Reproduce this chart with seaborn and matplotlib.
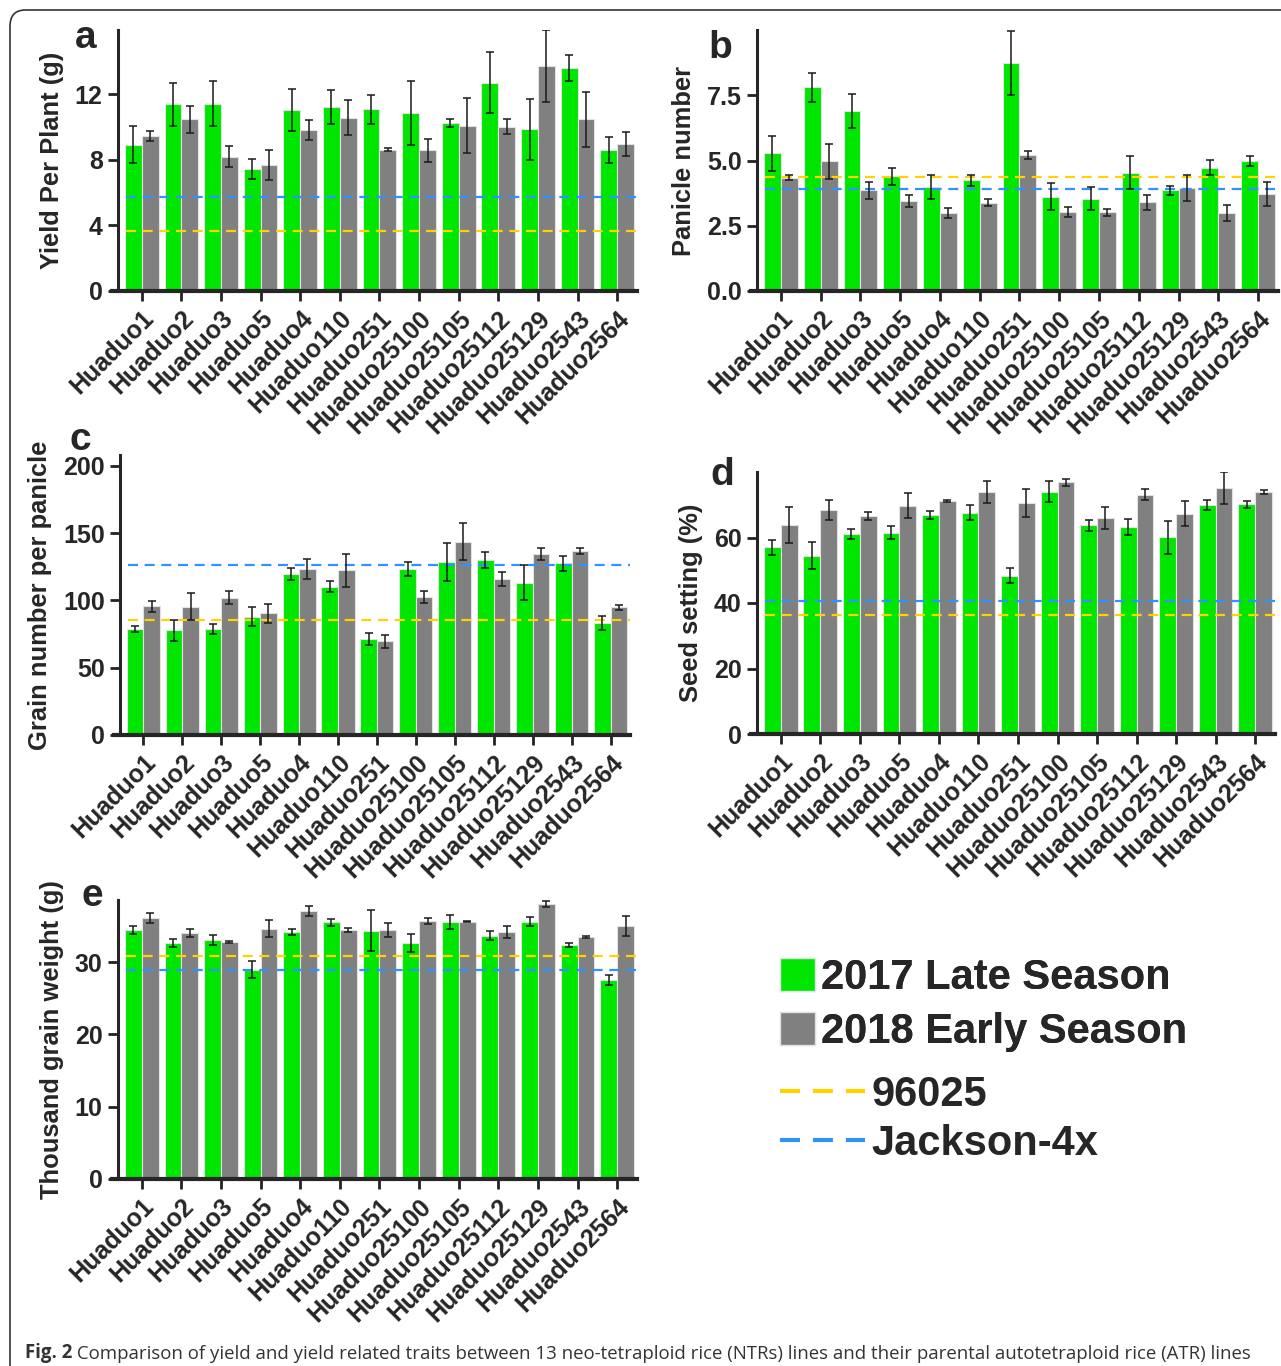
import matplotlib
matplotlib.use("Agg")
import pandas as pd
import matplotlib.pyplot as plt
import seaborn as sns
from matplotlib.patches import Patch, FancyBboxPatch
from matplotlib.lines import Line2D

W, H = 1281, 1366

lines = ["Huaduo1", "Huaduo2", "Huaduo3", "Huaduo5", "Huaduo4", "Huaduo110",
         "Huaduo251", "Huaduo25100", "Huaduo25105", "Huaduo25112",
         "Huaduo25129", "Huaduo2543", "Huaduo2564"]
seasons = ["2017 Late Season", "2018 Early Season"]

# a - yield per plant
yield_late = [8.92, 11.38, 11.42, 7.44, 11.01, 11.2, 11.07, 10.85, 10.24, 12.68, 9.86, 13.59, 8.6]
yield_late_err = [1.12, 1.3, 1.38, 0.6, 1.28, 1.03, 0.87, 1.95, 0.25, 1.85, 1.85, 0.8, 0.8]
yield_early = [9.43, 10.45, 8.19, 7.67, 9.82, 10.55, 8.62, 8.58, 10.08, 10.02, 13.69, 10.45, 8.95]
yield_early_err = [0.3, 0.8, 0.65, 0.9, 0.6, 1.07, 0.1, 0.7, 1.7, 0.45, 2.2, 1.68, 0.75]

# b - panicle number
pan_late = [5.27, 7.8, 6.89, 4.39, 4.0, 4.24, 8.73, 3.62, 3.54, 4.53, 3.86, 4.73, 4.97]
pan_late_err = [0.68, 0.56, 0.64, 0.32, 0.46, 0.22, 1.23, 0.52, 0.45, 0.64, 0.18, 0.3, 0.19]
pan_early = [4.34, 4.97, 3.86, 3.44, 2.99, 3.38, 5.21, 3.03, 3.01, 3.4, 3.94, 2.99, 3.71]
pan_early_err = [0.1, 0.67, 0.33, 0.22, 0.18, 0.14, 0.17, 0.2, 0.15, 0.29, 0.5, 0.3, 0.46]

# c - grain number per panicle
grain_late = [78.8, 77.8, 78.6, 88, 119.7, 110.2, 71.3, 123.2, 128.7, 129.9, 113.2, 127.4, 83]
grain_late_err = [2.5, 7.7, 3.5, 7, 4.2, 4, 4.7, 5, 14, 6.2, 13, 5.3, 5.3]
grain_early = [95.5, 95.3, 102, 90.3, 123.2, 122.2, 69.6, 102.2, 143.6, 116, 134.4, 136.7, 94.8]
grain_early_err = [4, 10.2, 4.7, 7, 7.2, 12, 4.7, 4.5, 13.8, 5.2, 4.5, 2.2, 2]

# d - seed setting
seed_late = [57.0, 54.4, 61.1, 61.5, 66.8, 67.5, 48.3, 74.0, 63.7, 63.3, 60.1, 69.8, 70.1]
seed_late_err = [2.2, 4.1, 1.6, 2.0, 1.2, 2.3, 2.3, 3.1, 1.7, 2.4, 5.0, 1.5, 1.0]
seed_early = [63.9, 68.4, 66.6, 69.7, 71.1, 73.8, 70.5, 76.8, 65.9, 73.1, 67.3, 75.0, 73.9]
seed_early_err = [5.5, 3.2, 1.3, 3.8, 0.3, 3.4, 4.3, 1.1, 3.3, 1.8, 3.7, 4.9, 0.7]

# e - thousand grain weight
tgw_late = [34.5, 32.64, 33.06, 28.94, 34.17, 35.5, 34.35, 32.64, 35.55, 33.66, 35.6, 32.36, 27.55]
tgw_late_err = [0.55, 0.5, 0.74, 1.2, 0.46, 0.46, 2.8, 1.25, 0.97, 0.65, 0.65, 0.28, 0.65]
tgw_early = [36.06, 34.03, 32.78, 34.63, 37.08, 34.4, 34.44, 35.69, 35.6, 34.17, 38.05, 33.47, 35.0]
tgw_early_err = [0.7, 0.5, 0.15, 1.2, 0.65, 0.28, 0.97, 0.37, 0.1, 0.83, 0.37, 0.14, 1.34]

# parental lines (a, b, c, d, e)
ref_96025 = [3.67, 4.38, 85.5, 36.4, 30.8]
ref_jackson = [5.7, 3.89, 126.2, 40.6, 28.94]

GREEN = "#00E600"
GRAY = "#808080"
YELLOW = "#FFD200"
BLUE = "#2E93FF"

sns.set_style("ticks")
plt.rcParams["font.family"] = ["Liberation Sans", "DejaVu Sans"]
plt.rcParams["font.weight"] = "bold"

fig = plt.figure(figsize=(W / 100, H / 100), dpi=100)


def add_ax(l, t, r, b):
    return fig.add_axes([l / W, 1 - b / H, (r - l) / W, (b - t) / H])


def panel(ax, late, late_err, early, early_err, idx, ylim, yticks, ylabel, ticklabels=None):
    df = pd.DataFrame({
        "line": lines * 2,
        "season": [seasons[0]] * len(lines) + [seasons[1]] * len(lines),
        "value": late + early,
    })
    sns.barplot(data=df, x="line", y="value", hue="season", order=lines, hue_order=seasons,
                palette=[GREEN, GRAY], saturation=1, errorbar=None, width=0.85,
                edgecolor="#e2e2e2", linewidth=0.8, legend=False, ax=ax)
    for cont, err in zip(ax.containers, [late_err, early_err]):
        xs = [p.get_x() + p.get_width() / 2 for p in cont]
        ys = [p.get_height() for p in cont]
        ax.errorbar(xs, ys, yerr=err, fmt="none", ecolor="#1a1a1a", elinewidth=1.1,
                    capsize=3, capthick=1.1, zorder=4)
    ax.axhline(ref_96025[idx], xmin=0.015, xmax=1, color=YELLOW, lw=1.6,
               ls=(0, (4.5, 3)), zorder=3)
    ax.axhline(ref_jackson[idx], xmin=0.015, xmax=1, color=BLUE, lw=1.6,
               ls=(0, (4.5, 3)), zorder=3)
    ax.set_xlim(-0.6, 12.5)
    ax.set_ylim(*ylim)
    ax.set_yticks(yticks)
    if ticklabels is not None:
        ax.set_yticklabels(ticklabels)
    ax.set_xlabel("")
    ax.set_ylabel(ylabel, fontsize=18.4, fontweight="bold", labelpad=8)
    sns.despine(ax=ax)
    ax.spines["left"].set_linewidth(2.2)
    ax.spines["bottom"].set_linewidth(3)
    ax.spines["bottom"].set_bounds(-0.75, 12.5)
    ax.tick_params(axis="both", direction="out", length=7, width=2, labelsize=18,
                   color="#222222", pad=4)
    plt.setp(ax.get_xticklabels(), rotation=45, ha="right", rotation_mode="anchor",
             fontweight="bold")
    plt.setp(ax.get_yticklabels(), fontweight="bold")


ax_a = add_ax(118, 30, 637, 291)
panel(ax_a, yield_late, yield_late_err, yield_early, yield_early_err, 0,
      (0, 15.9), [0, 4, 8, 12], "Yield Per Plant (g)")

ax_b = add_ax(757, 30, 1278, 291)
panel(ax_b, pan_late, pan_late_err, pan_early, pan_early_err, 1,
      (0, 10), [0, 2.5, 5, 7.5], "Panicle number", ["0.0", "2.5", "5.0", "7.5"])

ax_c = add_ax(120, 455, 630, 735)
panel(ax_c, grain_late, grain_late_err, grain_early, grain_early_err, 2,
      (0, 208), [0, 50, 100, 150, 200], "Grain number per panicle")

ax_d = add_ax(757, 472, 1275, 734)
panel(ax_d, seed_late, seed_late_err, seed_early, seed_early_err, 3,
      (0, 80), [0, 20, 40, 60], "Seed setting (%)")

ax_e = add_ax(118, 900, 637, 1179)
panel(ax_e, tgw_late, tgw_late_err, tgw_early, tgw_early_err, 4,
      (0, 38.6), [0, 10, 20, 30], "Thousand grain weight (g)")

# panel letters
for letter, (x, y) in zip("abcde", [(86, 48), (720, 58), (80, 450), (722, 485), (92, 906)]):
    fig.text(x / W, 1 - y / H, letter, fontsize=28, fontweight="bold", ha="center", va="baseline")

# legend
h_bars = [Patch(facecolor=GREEN, edgecolor="#e2e2e2"), Patch(facecolor=GRAY, edgecolor="#e2e2e2")]
leg1 = fig.legend(h_bars, seasons, loc="upper left", bbox_to_anchor=(742 / W, 1 - 920 / H),
                  frameon=False, handlelength=0.85, handleheight=0.85, handletextpad=0.15,
                  labelspacing=0.35, prop={"size": 30, "weight": "bold"})
h_lines = [Line2D([], [], color=YELLOW, lw=3, ls=(0, (4.8, 3.1))),
           Line2D([], [], color=BLUE, lw=3, ls=(0, (4.8, 3.1)))]
leg2 = fig.legend(h_lines, ["96025", "Jackson-4x"], loc="upper left",
                  bbox_to_anchor=(742 / W, 1 - 1037 / H), frameon=False, handlelength=2.06,
                  handletextpad=0.15, labelspacing=0.22, prop={"size": 30, "weight": "bold"})
fig.add_artist(leg1)

# frame around the figure
frame = FancyBboxPatch((10 / W, -0.05), 1.2, 1 - 10 / H + 0.05,
                       boxstyle="round,pad=0,rounding_size=0.012",
                       transform=fig.transFigure, fill=False, edgecolor="#333333", lw=1.2)
fig.add_artist(frame)

# caption
t1 = fig.text(25 / W, 1 - 1358 / H, "Fig. 2", fontsize=13.4, fontweight="bold",
              family=["Open Sans", "DejaVu Sans"], va="baseline", color="#333333")
plt.annotate(" Comparison of yield and yield related traits between 13 neo-tetraploid rice "
             "(NTRs) lines and their parental autotetraploid rice (ATR) lines",
             xy=(1, 0), xycoords=t1, va="bottom", ha="left", fontsize=13.4,
             fontweight="normal", family=["Open Sans", "DejaVu Sans"], color="#333333",
             annotation_clip=False)

fig.savefig("out.png", dpi=100)
